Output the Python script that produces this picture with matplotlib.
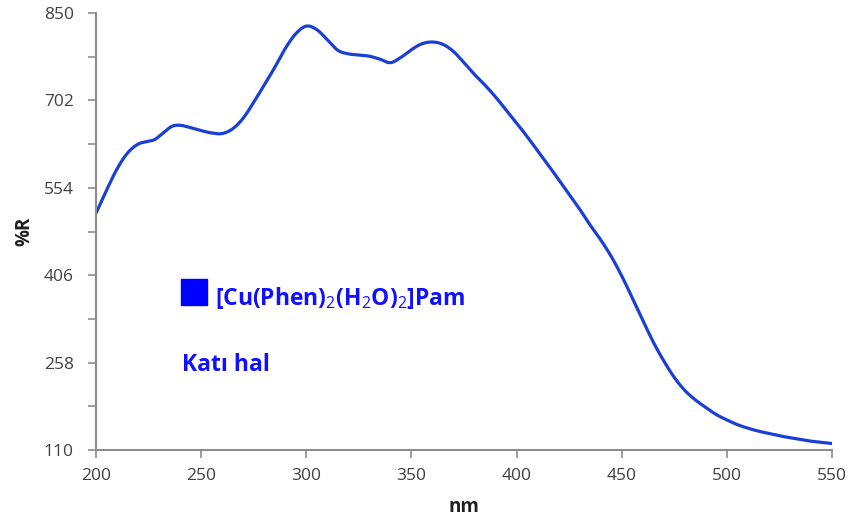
import matplotlib
matplotlib.use("Agg")
import matplotlib.pyplot as plt
import numpy as np
from matplotlib.ticker import FixedLocator

# Diffuse reflectance spectrum (solid state)
wavelength = [200, 205, 210, 215, 220, 225, 228, 232, 236, 240, 245, 250, 255,
              260, 265, 270, 275, 280, 285, 290, 295, 300, 305, 310, 315, 320,
              325, 330, 335, 340, 345, 350, 355, 360, 365, 370, 375, 380, 385,
              390, 395, 400, 405, 410, 415, 420, 425, 430, 435, 440, 445, 450,
              455, 460, 465, 470, 475, 480, 485, 490, 495, 500, 505, 510, 515,
              520, 525, 530, 535, 540, 545, 550]
reflectance = [511, 550, 586, 613, 628, 633, 636, 647, 658, 660, 656, 651, 647,
               646, 654, 672, 699, 728, 758, 790, 815, 828, 822, 805, 787, 781,
               779, 777, 772, 766, 775, 788, 798, 801, 797, 785, 766, 746, 728,
               708, 686, 664, 641, 617, 593, 568, 543, 518, 491, 466, 438, 405,
               368, 330, 293, 261, 233, 211, 195, 182, 170, 161, 153, 147, 142,
               138, 134, 131, 128, 125, 123, 121]

x_ticks = [200, 250, 300, 350, 400, 450, 500, 550]
y_ticks = [110, 258, 406, 554, 702, 850]
y_minor_ticks = [184, 332, 480, 628, 776]

series_label = r"[Cu(Phen)$_2$(H$_2$O)$_2$]Pam"
state_label = "Katı hal"


def smooth_line(xs, ys, steps=12):
    """Catmull-Rom spline through the points, like a 'smoothed line' chart."""
    xs = np.asarray(xs, float)
    ys = np.asarray(ys, float)
    px = np.concatenate([[2 * xs[0] - xs[1]], xs, [2 * xs[-1] - xs[-2]]])
    py = np.concatenate([[2 * ys[0] - ys[1]], ys, [2 * ys[-1] - ys[-2]]])
    out_x, out_y = [], []
    t = np.linspace(0, 1, steps, endpoint=False)
    for i in range(1, len(px) - 2):
        for p, out in ((px, out_x), (py, out_y)):
            p0, p1, p2, p3 = p[i - 1], p[i], p[i + 1], p[i + 2]
            out.extend(0.5 * (2 * p1 + (-p0 + p2) * t
                              + (2 * p0 - 5 * p1 + 4 * p2 - p3) * t ** 2
                              + (-p0 + 3 * p1 - 3 * p2 + p3) * t ** 3))
    out_x.append(xs[-1])
    out_y.append(ys[-1])
    return np.array(out_x), np.array(out_y)


plt.rcParams["font.family"] = ["Open Sans", "DejaVu Sans"]
plt.rcParams["mathtext.fontset"] = "custom"
plt.rcParams["mathtext.rm"] = "Open Sans"
plt.rcParams["mathtext.it"] = "Open Sans"
plt.rcParams["mathtext.bf"] = "Open Sans:bold"

fig = plt.figure(figsize=(8.54, 5.24), dpi=100)
ax = fig.add_axes([0.1124, 0.1412, 0.8618, 0.8338])

sx, sy = smooth_line(wavelength, reflectance)
ax.plot(sx, sy, color="#1a3fd6", lw=2.3,
        solid_joinstyle="round", solid_capstyle="round")

ax.set_xlim(200, 550)
ax.set_ylim(110, 850)
ax.xaxis.set_major_locator(FixedLocator(x_ticks))
ax.yaxis.set_major_locator(FixedLocator(y_ticks))
ax.yaxis.set_minor_locator(FixedLocator(y_minor_ticks))

for side in ("top", "right"):
    ax.spines[side].set_visible(False)
for side in ("left", "bottom"):
    ax.spines[side].set_color("#8c8c8c")
    ax.spines[side].set_linewidth(1.5)

ax.tick_params(axis="both", which="both", direction="out", color="#8c8c8c",
               width=1.2, labelcolor="#404040", labelsize=12.5)
ax.tick_params(axis="both", which="major", length=6)
ax.tick_params(axis="y", which="minor", length=6)
ax.tick_params(axis="x", pad=7)
ax.tick_params(axis="y", pad=10)

ax.set_xlabel("nm", fontsize=13.5, fontweight="bold", color="#202020", labelpad=9)
ax.set_ylabel("%R", fontsize=13.5, fontweight="bold", color="#202020", labelpad=7)

# Legend entry drawn as a square marker with its label
ax.plot([246.4], [377], marker="s", markersize=19, color="#0000ff", ls="none")
ax.text(256.6, 356, series_label, color="#1010ff", fontsize=16.5,
        fontweight="bold", va="baseline", ha="left")
ax.text(240.7, 243, state_label, color="#1010ff", fontsize=16.5,
        fontweight="bold", va="baseline", ha="left")

fig.savefig("out.png", dpi=100)
